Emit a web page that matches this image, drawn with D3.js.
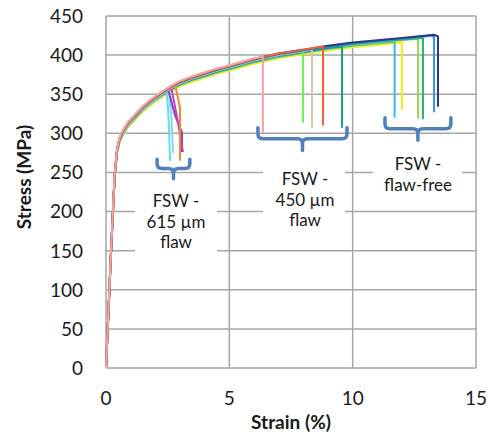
<!DOCTYPE html>
<html><head><meta charset="utf-8">
<script src="https://cdn.jsdelivr.net/npm/d3@7"></script>
<style>body{margin:0;background:#fff} text{font-family:Lato,"Open Sans",sans-serif}</style>
</head><body>
<svg id="c" width="493" height="435"></svg>
<script>
const xTicks = [0, 5, 10, 15];
const yTicks = [0, 50, 100, 150, 200, 250, 300, 350, 400, 450];

// shared hardening curve
const baseStrain = [0, 0.2, 0.35, 0.45, 0.55, 0.7, 0.9, 1.2, 1.5, 1.8, 2.2, 2.6, 3.0, 3.5, 4.0, 4.5, 5, 6, 7, 8, 9, 10, 11, 12, 13, 13.5];
const baseStress = [0, 145, 245, 278, 292, 302, 312, 322, 332, 340, 349, 357, 364, 370, 375, 380, 384, 393, 400, 405, 410, 414, 417, 420, 423, 424];

const seriesNames = ["ff-yellow","ff-lightblue","ff-lightgreen","ff-green","450-teal","615-cyan","615-lightblue","615-purple","615-magenta","615-orange","450-tan","450-green","ff-blue","ff-navy","450-red","450-pink"];
const seriesColors = ["#f0f018","#35b8ec","#9ad65a","#25b862","#1d9a8a","#5ce1f0","#8fd0f8","#8a3fc0","#c040c8","#f08a28","#d8c8a4","#6ff04e","#3a8fd6","#26398f","#fb5a3c","#f6a39f"];
const seriesOffsets = [-4, -2, -1, 0, -1, 0, -1, 1, 0, 1, 0, 1, 1, 2, 2, 3];
const seriesFracture = [
  [[12.0,416],[12.0,330]],
  [[11.7,417],[11.7,320]],
  [[12.65,421],[12.65,319]],
  [[12.85,422],[12.85,318]],
  [[9.57,411],[9.57,307]],
  [[2.45,356],[2.52,330],[2.6,265]],
  [[2.55,357],[2.65,320],[2.72,275]],
  [[2.5,358],[2.8,323],[3.08,301],[3.08,276]],
  [[2.65,358],[2.92,314],[3.12,276]],
  [[2.8,362],[3.0,333],[3.0,265]],
  [[8.35,407],[8.35,307]],
  [[7.99,406],[7.99,314]],
  [[13.2,425],[13.3,423],[13.3,327]],
  [[13.3,426],[13.46,424],[13.46,334]],
  [[8.8,411],[8.8,310]],
  [[6.36,398],[6.36,301]]
];

// annotation groups (data units)
const groupLines = [["FSW -","615 µm","flaw"],["FSW -","450 µm","flaw"],["FSW -","flaw-free"]];
const groupBrace = [[2.07,3.4,267,255,242],[6.16,9.77,307,293,278],[11.31,13.98,320,306,291]];
const groupBox = [[1.18,4.5,242,145],[6.36,9.69,278,170],[10.82,14.43,291,214]];
const groupText = [[2.84,205.5],[8.07,233.6],[12.65,252.7]];

const svg = d3.select("#c");
const x = d3.scaleLinear().domain([0,15]).range([106,476]);
const y = d3.scaleLinear().domain([0,450]).range([368,16]);
const grid = "#a6a6a6";

// grid
svg.append("g").selectAll("line").data(yTicks).join("line")
  .attr("x1", x(0)).attr("x2", x(15)).attr("y1", d=>y(d)).attr("y2", d=>y(d))
  .attr("stroke", grid).attr("stroke-width", 1.5);
svg.append("g").selectAll("line").data(xTicks).join("line")
  .attr("x1", d=>x(d)).attr("x2", d=>x(d)).attr("y1", y(0)).attr("y2", y(450))
  .attr("stroke", grid).attr("stroke-width", 1.5);

// tick labels
svg.append("g").selectAll("text").data(yTicks).join("text")
  .attr("x", 83).attr("y", d=>y(d)).attr("dy","0.36em").attr("text-anchor","end")
  .attr("font-size", 19).attr("fill","#1a1a1a").text(d=>d);
svg.append("g").selectAll("text").data(xTicks).join("text")
  .attr("x", d=>x(d)).attr("y", 405).attr("text-anchor","middle")
  .attr("font-size", 19).attr("fill","#1a1a1a").text(d=>d);

svg.append("text").attr("x", 291).attr("y", 429).attr("text-anchor","middle")
  .attr("font-size", 19).attr("font-weight","bold").attr("fill","#1a1a1a").text("Strain (%)");
svg.append("text").attr("transform","translate(31,177) rotate(-90)").attr("text-anchor","middle")
  .attr("font-size", 19).attr("font-weight","bold").attr("fill","#1a1a1a").text("Stress (MPa)");

// curves
const line = d3.line().x(d=>x(d[0])).y(d=>y(d[1]));
seriesNames.forEach((n,i)=>{
  const fr = seriesFracture[i];
  const pts = [];
  baseStrain.forEach((s,j)=>{ if (s < fr[0][0]) pts.push([s, baseStress[j] + (j===0?0:seriesOffsets[i])]); });
  fr.forEach(p=>pts.push(p));
  svg.append("path").attr("d", line(pts)).attr("fill","none")
    .attr("stroke", seriesColors[i]).attr("stroke-width", 2).attr("stroke-linejoin","round");
});

// annotation boxes, braces, text
groupLines.forEach((lines,i)=>{
  const b = groupBox[i];
  svg.append("rect").attr("x", x(b[0])).attr("y", y(b[2])).attr("width", x(b[1])-x(b[0])).attr("height", y(b[3])-y(b[2])).attr("fill","#fff");
  const br = groupBrace[i];
  const x1 = x(br[0]), x2 = x(br[1]), yt = y(br[2]), yh = y(br[3]), yb = y(br[4]), xc = (x1+x2)/2, r = 5;
  const p = `M${x1},${yt} L${x1},${yh-r} Q${x1},${yh} ${x1+r},${yh} L${xc-r},${yh} Q${xc},${yh} ${xc},${yh+r} L${xc},${yb} M${xc},${yh+r} Q${xc},${yh} ${xc+r},${yh} L${x2-r},${yh} Q${x2},${yh} ${x2},${yh-r} L${x2},${yt}`;
  svg.append("path").attr("d", p).attr("fill","none").attr("stroke","#4f81bd").attr("stroke-width",3.5).attr("stroke-linecap","round");
  const t = groupText[i];
  lines.forEach((s,k)=>{
    svg.append("text").attr("x", x(t[0])).attr("y", y(t[1]) + k*20.5).attr("text-anchor","middle")
      .attr("font-size", 17).attr("fill","#1a1a1a").text(s);
  });
});
</script>
</body></html>
